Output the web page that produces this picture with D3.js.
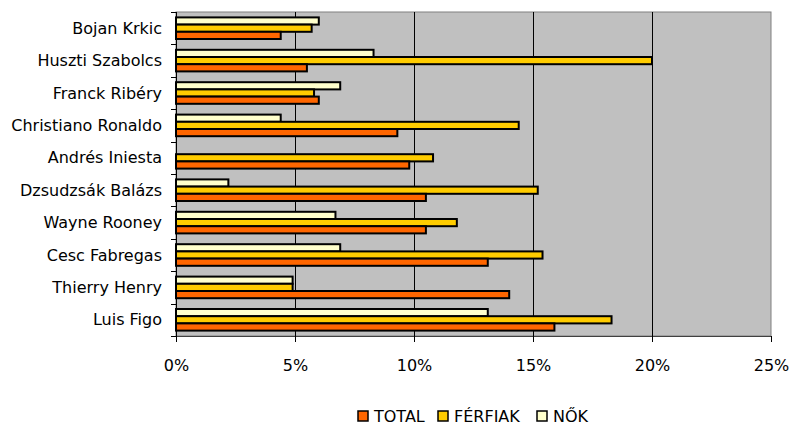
<!DOCTYPE html>
<html>
<head>
<meta charset="utf-8">
<script src="https://cdn.jsdelivr.net/npm/d3@7"></script>
<style>
  html, body { margin: 0; padding: 0; background: #fff; }
  svg { display: block; }
  text { font-family: "DejaVu Sans", sans-serif; fill: #000; }
</style>
</head>
<body>
<svg id="chart" width="792" height="426"></svg>
<script>
// Players, listed top to bottom
const players = [
  "Bojan Krkic", "Huszti Szabolcs", "Franck Ribéry", "Christiano Ronaldo",
  "Andrés Iniesta", "Dzsudzsák Balázs", "Wayne Rooney", "Cesc Fabregas",
  "Thierry Henry", "Luis Figo"
];
// Share of votes (%) per group
const total   = [4.4, 5.5, 6.0, 9.3, 9.8, 10.5, 10.5, 13.1, 14.0, 15.9];
const ferfiak = [5.7, 20.0, 5.8, 14.4, 10.8, 15.2, 11.8, 15.4, 4.9, 18.3];
const nok     = [6.0, 8.3, 6.9, 4.4, 0.0, 2.2, 6.7, 6.9, 4.9, 13.1];

const seriesNames = ["TOTAL", "FÉRFIAK", "NŐK"];
const seriesColors = ["#FF6600", "#FFCC00", "#FFFFCC"];
const xTicks = [0, 5, 10, 15, 20, 25];

const FONT = "16px";
const svg = d3.select("#chart");
const plot = { left: 176, top: 12, right: 771, bottom: 336 };

const x = d3.scaleLinear().domain([0, 25]).range([plot.left, plot.right]);
const y = d3.scaleBand().domain(players).range([plot.top, plot.bottom]).padding(0);

// Within a group the bars run NŐK, FÉRFIAK, TOTAL from top to bottom
const barOrder = ["NŐK", "FÉRFIAK", "TOTAL"];
const groupH = y.bandwidth() * 3 / 4.5;
const yInner = d3.scaleBand().domain(barOrder)
  .range([(y.bandwidth() - groupH) / 2, (y.bandwidth() + groupH) / 2]);

// Plot background
svg.append("rect")
  .attr("x", plot.left).attr("y", plot.top)
  .attr("width", plot.right - plot.left).attr("height", plot.bottom - plot.top)
  .attr("fill", "#C0C0C0").attr("stroke", "#808080").attr("stroke-width", 1);

// Vertical gridlines
svg.append("g").selectAll("line").data(xTicks.slice(1, -1)).join("line")
  .attr("x1", d => Math.round(x(d)) + 0.5).attr("x2", d => Math.round(x(d)) + 0.5)
  .attr("y1", plot.top).attr("y2", plot.bottom)
  .attr("stroke", "#000").attr("stroke-width", 1);

// Bars
const seriesData = { "TOTAL": total, "FÉRFIAK": ferfiak, "NŐK": nok };
const rows = [];
players.forEach((p, i) => {
  barOrder.forEach(s => rows.push({ player: p, series: s, value: seriesData[s][i] }));
});
svg.append("g").selectAll("rect").data(rows.filter(d => d.value > 0)).join("rect")
  .attr("x", x(0))
  .attr("y", d => y(d.player) + yInner(d.series))
  .attr("width", d => x(d.value) - x(0))
  .attr("height", yInner.bandwidth())
  .attr("fill", d => seriesColors[seriesNames.indexOf(d.series)])
  .attr("stroke", "#000").attr("stroke-width", 2);

// X axis
const xAxis = d3.axisBottom(x).tickValues(xTicks).tickFormat(d => d + "%")
  .tickSize(6).tickPadding(18);
const gx = svg.append("g").attr("transform", `translate(0,${plot.bottom})`).call(xAxis);
gx.attr("font-size", null).attr("font-family", null);
gx.select(".domain").attr("stroke", "#404040");
gx.selectAll(".tick line").attr("stroke", "#000");
gx.selectAll(".tick text").style("font-size", FONT);

// Y axis (category ticks sit on band boundaries)
const gy = svg.append("g").attr("transform", `translate(${plot.left},0)`);
gy.append("line").attr("x1", 0.5).attr("x2", 0.5)
  .attr("y1", plot.top).attr("y2", plot.bottom).attr("stroke", "#000");
const bounds = players.map(p => y(p)).concat([plot.bottom]);
gy.selectAll("line.tk").data(bounds).join("line").attr("class", "tk")
  .attr("x1", -5).attr("x2", 0)
  .attr("y1", d => Math.round(d) + 0.5).attr("y2", d => Math.round(d) + 0.5)
  .attr("stroke", "#000");
gy.selectAll("text").data(players).join("text")
  .attr("x", -14)
  .attr("y", d => y(d) + y.bandwidth() / 2)
  .attr("dy", "0.35em")
  .attr("text-anchor", "end")
  .style("font-size", FONT)
  .text(d => d);

// Legend
const legendItems = [
  { name: "TOTAL", color: seriesColors[0], x: 358 },
  { name: "FÉRFIAK", color: seriesColors[1], x: 438 },
  { name: "NŐK", color: seriesColors[2], x: 537 }
];
const lg = svg.append("g");
legendItems.forEach(it => {
  lg.append("rect").attr("x", it.x).attr("y", 411).attr("width", 10).attr("height", 10)
    .attr("fill", it.color).attr("stroke", "#000").attr("stroke-width", 1.5);
  lg.append("text").attr("x", it.x + 16).attr("y", 416).attr("dy", "0.35em")
    .style("font-size", FONT).text(it.name);
});
</script>
</body>
</html>
